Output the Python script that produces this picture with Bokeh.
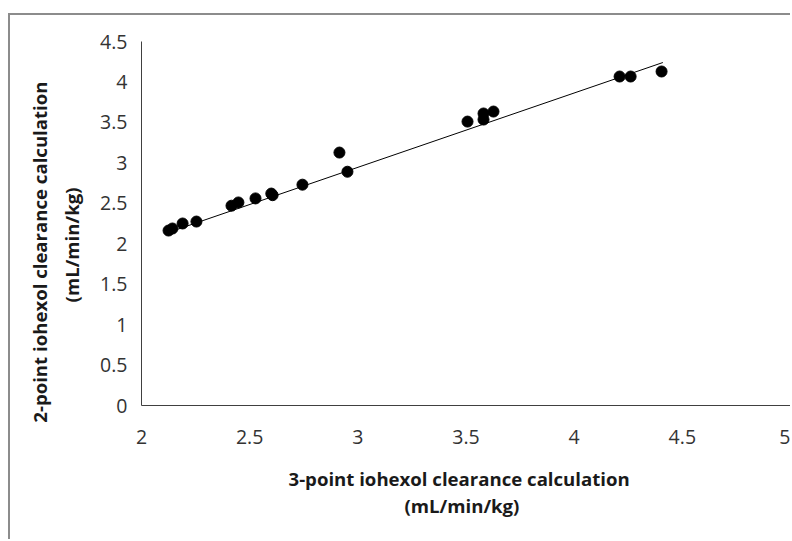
import numpy as np
from bokeh.plotting import figure
from bokeh.models import Range1d, FixedTicker, Title, ColumnDataSource
from bokeh.embed import file_html
from bokeh.resources import INLINE

# ---- data ----
clear_3pt = [2.125, 2.143, 2.19, 2.254, 2.416, 2.448, 2.527, 2.60, 2.606, 2.744,
             2.915, 2.952, 3.507, 3.581, 3.581, 3.627, 4.21, 4.261, 4.404]
clear_2pt = [2.163, 2.188, 2.25, 2.274, 2.47, 2.51, 2.56, 2.62, 2.60, 2.73,
             3.127, 2.89, 3.51, 3.61, 3.535, 3.634, 4.067, 4.067, 4.129]
trend_x = [2.125, 4.41]
trend_y = [2.14, 4.24]
x_ticks = [2, 2.5, 3, 3.5, 4, 4.5, 5]
x_tick_labels = ["2", "2.5", "3", "3.5", "4", "4.5", "5"]
y_ticks = [0, 0.5, 1, 1.5, 2, 2.5, 3, 3.5, 4, 4.5]
y_tick_labels = ["0", "0.5", "1", "1.5", "2", "2.5", "3", "3.5", "4", "4.5"]
x_title = ["3-point iohexol clearance calculation", "(mL/min/kg)"]
y_title = ["2-point iohexol clearance calculation", "(mL/min/kg)"]

FONT = "Open Sans"

p = figure(width=782, height=526, output_backend="svg", toolbar_location=None,
           x_range=Range1d(2, 5), y_range=Range1d(0, 4.5),
           min_border_left=131, min_border_right=2, min_border_top=26, min_border_bottom=136)
p.styles = {"margin-left": "8px", "margin-top": "13px",
            "border-left": "2px solid #8c8c8c", "border-top": "2px solid #8c8c8c"}
p.background_fill_color = "white"
p.border_fill_color = "white"
p.outline_line_color = None
p.xgrid.visible = False
p.ygrid.visible = False

for ax in (p.xaxis, p.yaxis):
    ax.axis_line_color = "#404040"
    ax.axis_line_width = 1
    ax.major_tick_line_color = None
    ax.minor_tick_line_color = None
    ax.major_tick_out = 0
    ax.minor_tick_out = 0
    ax.major_label_text_font = FONT
    ax.major_label_text_font_size = "19.5px"
    ax.major_label_text_color = "#333333"

p.xaxis.ticker = FixedTicker(ticks=x_ticks)
p.xaxis.major_label_overrides = dict(zip(x_ticks, x_tick_labels))
p.xaxis.major_label_standoff = 24
p.yaxis.ticker = FixedTicker(ticks=y_ticks)
p.yaxis.major_label_overrides = dict(zip(y_ticks, y_tick_labels))
p.yaxis.major_label_standoff = 14

# trend line and points
p.line(trend_x, trend_y, line_color="black", line_width=1)
src = ColumnDataSource(dict(x=clear_3pt, y=clear_2pt))
p.scatter("x", "y", source=src, size=11, fill_color="black", line_color="black")

def make_title(txt, align, standoff, offset, valign="bottom"):
    return Title(text=txt, align=align, vertical_align=valign, text_font=FONT,
                 text_font_size="18.6px", text_font_style="bold", text_color="#1a1a1a",
                 standoff=standoff, offset=offset)

# x-axis title (two lines, below)
p.add_layout(make_title(x_title[0], "left", 35, 147), "below")
p.add_layout(make_title(x_title[1], "left", -32, 263, valign="top"), "below")
# y-axis title (two lines, left; inner line first)
p.add_layout(make_title(y_title[1], "right", 28, 146), "left")
p.add_layout(make_title(y_title[0], "right", -18, 40), "left")

open("out.html", "w").write(file_html(p, INLINE))
